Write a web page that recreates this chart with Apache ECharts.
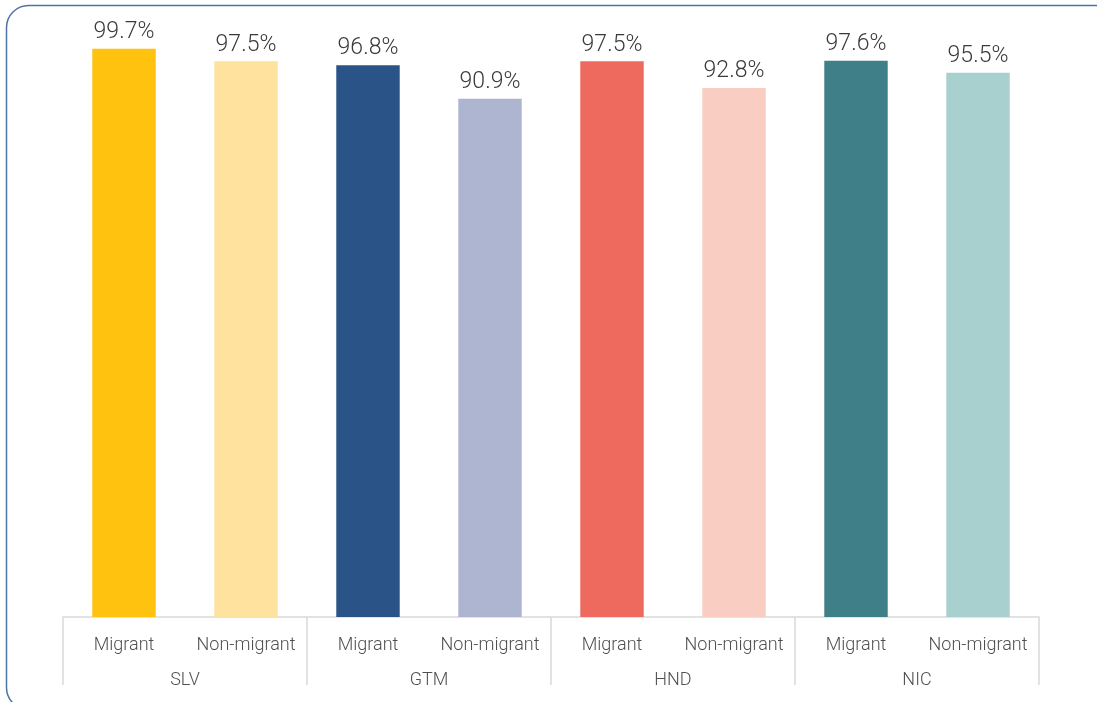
<!DOCTYPE html>
<html>
<head>
<meta charset="utf-8">
<script src="https://cdn.jsdelivr.net/npm/echarts@6/dist/echarts.min.js"></script>
<style>
html,body{margin:0;padding:0;background:#fff;}
#chart{width:1097px;height:702px;}
</style>
</head>
<body>
<div id="chart"></div>
<script>
const groups = ['SLV', 'GTM', 'HND', 'NIC'];
const subCategories = ['Migrant', 'Non-migrant', 'Migrant', 'Non-migrant', 'Migrant', 'Non-migrant', 'Migrant', 'Non-migrant'];
const values = [99.7, 97.5, 96.8, 90.9, 97.5, 92.8, 97.6, 95.5];
const barColors = ['#FFC20E', '#FEE29E', '#2A5488', '#AEB5D0', '#EE6A5E', '#F9CDC2', '#3F7F87', '#A7D0CF'];

const chart = echarts.init(document.getElementById('chart'));
chart.setOption({
  backgroundColor: '#fff',
  animation: false,
  graphic: [{
    type: 'rect',
    shape: { x: 6.5, y: 5.5, width: 1112, height: 704, r: 22 },
    style: { fill: 'none', stroke: '#4E74A6', lineWidth: 1.5 },
    silent: true,
    z: 100
  }],
  grid: { left: 63, right: 58, top: 47, bottom: 85 },
  xAxis: [{
    type: 'category',
    data: subCategories,
    axisLine: { show: true, lineStyle: { color: '#D9D9D9', width: 1.5 } },
    axisTick: { show: false },
    axisLabel: { color: '#505050', fontFamily: 'Roboto', fontWeight: 300, fontSize: 18, margin: 19, interval: 0 }
  }, {
    type: 'category',
    data: groups,
    position: 'bottom',
    axisLine: { show: false },
    axisTick: { show: true, length: 68, lineStyle: { color: '#D9D9D9', width: 1.5 } },
    axisLabel: { color: '#505050', fontFamily: 'Roboto', fontWeight: 300, fontSize: 18, margin: 54, interval: 0 }
  }],
  yAxis: {
    type: 'value', min: 0, max: 100, show: false,
    splitLine: { show: false }
  },
  series: [{
    type: 'bar',
    xAxisIndex: 0,
    barWidth: '52%',
    data: values.map((v, i) => ({ value: v, itemStyle: { color: barColors[i] } })),
    label: {
      show: true, position: 'top', distance: 5,
      color: '#3a3a3a', fontFamily: 'Roboto', fontWeight: 300, fontSize: 23,
      formatter: p => p.value.toFixed(1) + '%'
    }
  }]
});
</script>
</body>
</html>
